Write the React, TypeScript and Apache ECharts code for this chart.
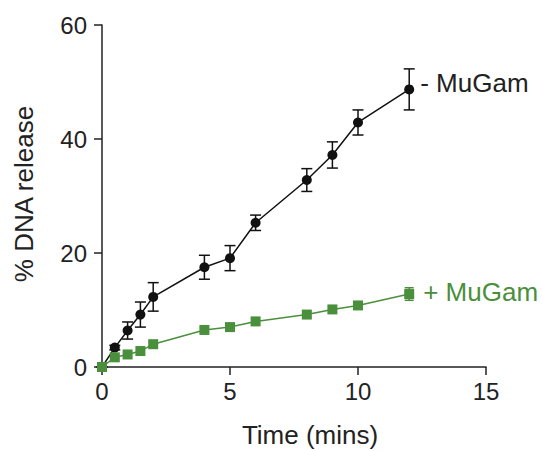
import React, { useEffect, useRef } from "react";
import * as echarts from "echarts";

const timeMins = [0, 0.5, 1, 1.5, 2, 4, 5, 6, 8, 9, 10, 12];
const minusMuGam = [0, 3.4, 6.4, 9.2, 12.3, 17.5, 19.1, 25.3, 32.8, 37.2, 42.9, 48.7];
const minusMuGamErr = [0, 0.4, 1.5, 2.2, 2.5, 2.1, 2.2, 1.35, 2.0, 2.3, 2.2, 3.6];
const plusMuGam = [0, 1.7, 2.2, 2.8, 4.0, 6.5, 7.0, 8.0, 9.2, 10.1, 10.8, 12.8];
const plusMuGamErr = [0, 0.3, 0.3, 0.3, 0.4, 0.4, 0.4, 0.4, 0.5, 0.5, 0.5, 1.1];
const seriesNames = ["- MuGam", "+ MuGam"];
const xTitle = "Time (mins)";
const yTitle = "% DNA release";

const BLACK = "#111";
const GREEN = "#4a8f3b";
const AXIS = "#222";
const FONT = "Liberation Sans, Arial, Helvetica, sans-serif";

function errorSeries(mean: number[], err: number[], color: string, z: number, capHalf: number) {
  return {
    type: "custom",
    z,
    data: timeMins.map((x, i) => [x, mean[i] - err[i], mean[i] + err[i]]),
    renderItem: (params: any, api: any) => {
      const x = api.value(0);
      const lo = api.coord([x, api.value(1)]);
      const hi = api.coord([x, api.value(2)]);
      const h = capHalf;
      const style = { stroke: color, lineWidth: 1.5 };
      return {
        type: "group",
        children: [
          { type: "line", shape: { x1: lo[0], y1: lo[1], x2: hi[0], y2: hi[1] }, style },
          { type: "line", shape: { x1: lo[0] - h, y1: lo[1], x2: lo[0] + h, y2: lo[1] }, style },
          { type: "line", shape: { x1: hi[0] - h, y1: hi[1], x2: hi[0] + h, y2: hi[1] }, style },
        ],
      };
    },
    silent: true,
  };
}

function lineData(mean: number[], name: string, color: string, offsetY: number, distance: number) {
  return timeMins.map((x, i) => {
    if (i === timeMins.length - 1) {
      return {
        value: [x, mean[i]],
        label: {
          show: true,
          position: "right",
          distance,
          offset: [0, offsetY],
          formatter: name,
          fontSize: 26,
          color,
          fontFamily: FONT,
        },
      };
    }
    return { value: [x, mean[i]] };
  });
}

export default function App() {
  const ref = useRef<HTMLDivElement>(null);
  useEffect(() => {
    if (!ref.current) return;
    const chart = echarts.init(ref.current, undefined, { renderer: "svg" });
    const axisCommon = {
      type: "value",
      axisLine: { show: true, onZero: false, lineStyle: { color: AXIS, width: 1.5 } },
      axisTick: { show: true, inside: false, length: 8, lineStyle: { color: AXIS, width: 1.5 } },
      splitLine: { show: false },
    };
    chart.setOption({
      animation: false,
      backgroundColor: "#fff",
      grid: { left: 102, right: 56, top: 25, bottom: 84, containLabel: false, outerBoundsMode: "none" },
      xAxis: {
        ...axisCommon,
        min: 0,
        max: 15,
        interval: 5,
        axisLabel: { fontSize: 24, color: AXIS, margin: 12, fontFamily: FONT },
      },
      yAxis: {
        ...axisCommon,
        min: 0,
        max: 60,
        interval: 20,
        axisLabel: { fontSize: 24, color: AXIS, margin: 15, fontFamily: FONT },
      },
      graphic: [
        {
          type: "text",
          x: 310,
          y: 435,
          style: {
            text: xTitle,
            fontSize: 26,
            fill: AXIS,
            fontFamily: FONT,
            textAlign: "center",
            textVerticalAlign: "middle",
          },
        },
        {
          type: "text",
          x: 24,
          y: 194,
          rotation: Math.PI / 2,
          style: {
            text: yTitle,
            fontSize: 26,
            fill: AXIS,
            fontFamily: FONT,
            textAlign: "center",
            textVerticalAlign: "middle",
          },
        },
      ],
      series: [
        errorSeries(minusMuGam, minusMuGamErr, BLACK, 1, 5.5),
        {
          type: "line",
          name: seriesNames[0],
          z: 2,
          data: lineData(minusMuGam, seriesNames[0], "#222", -6, 6),
          symbol: "circle",
          symbolSize: 10,
          itemStyle: { color: BLACK },
          lineStyle: { color: BLACK, width: 1.5 },
        },
        errorSeries(plusMuGam, plusMuGamErr, GREEN, 3, 4.5),
        {
          type: "line",
          name: seriesNames[1],
          z: 4,
          data: lineData(plusMuGam, seriesNames[1], GREEN, -2, 9),
          symbol: "rect",
          symbolSize: 10,
          itemStyle: { color: GREEN },
          lineStyle: { color: GREEN, width: 1.5 },
        },
      ],
    });
    return () => chart.dispose();
  }, []);
  return <div ref={ref} style={{ width: 542, height: 451, position: "fixed", left: 0, top: 0 }} />;
}
